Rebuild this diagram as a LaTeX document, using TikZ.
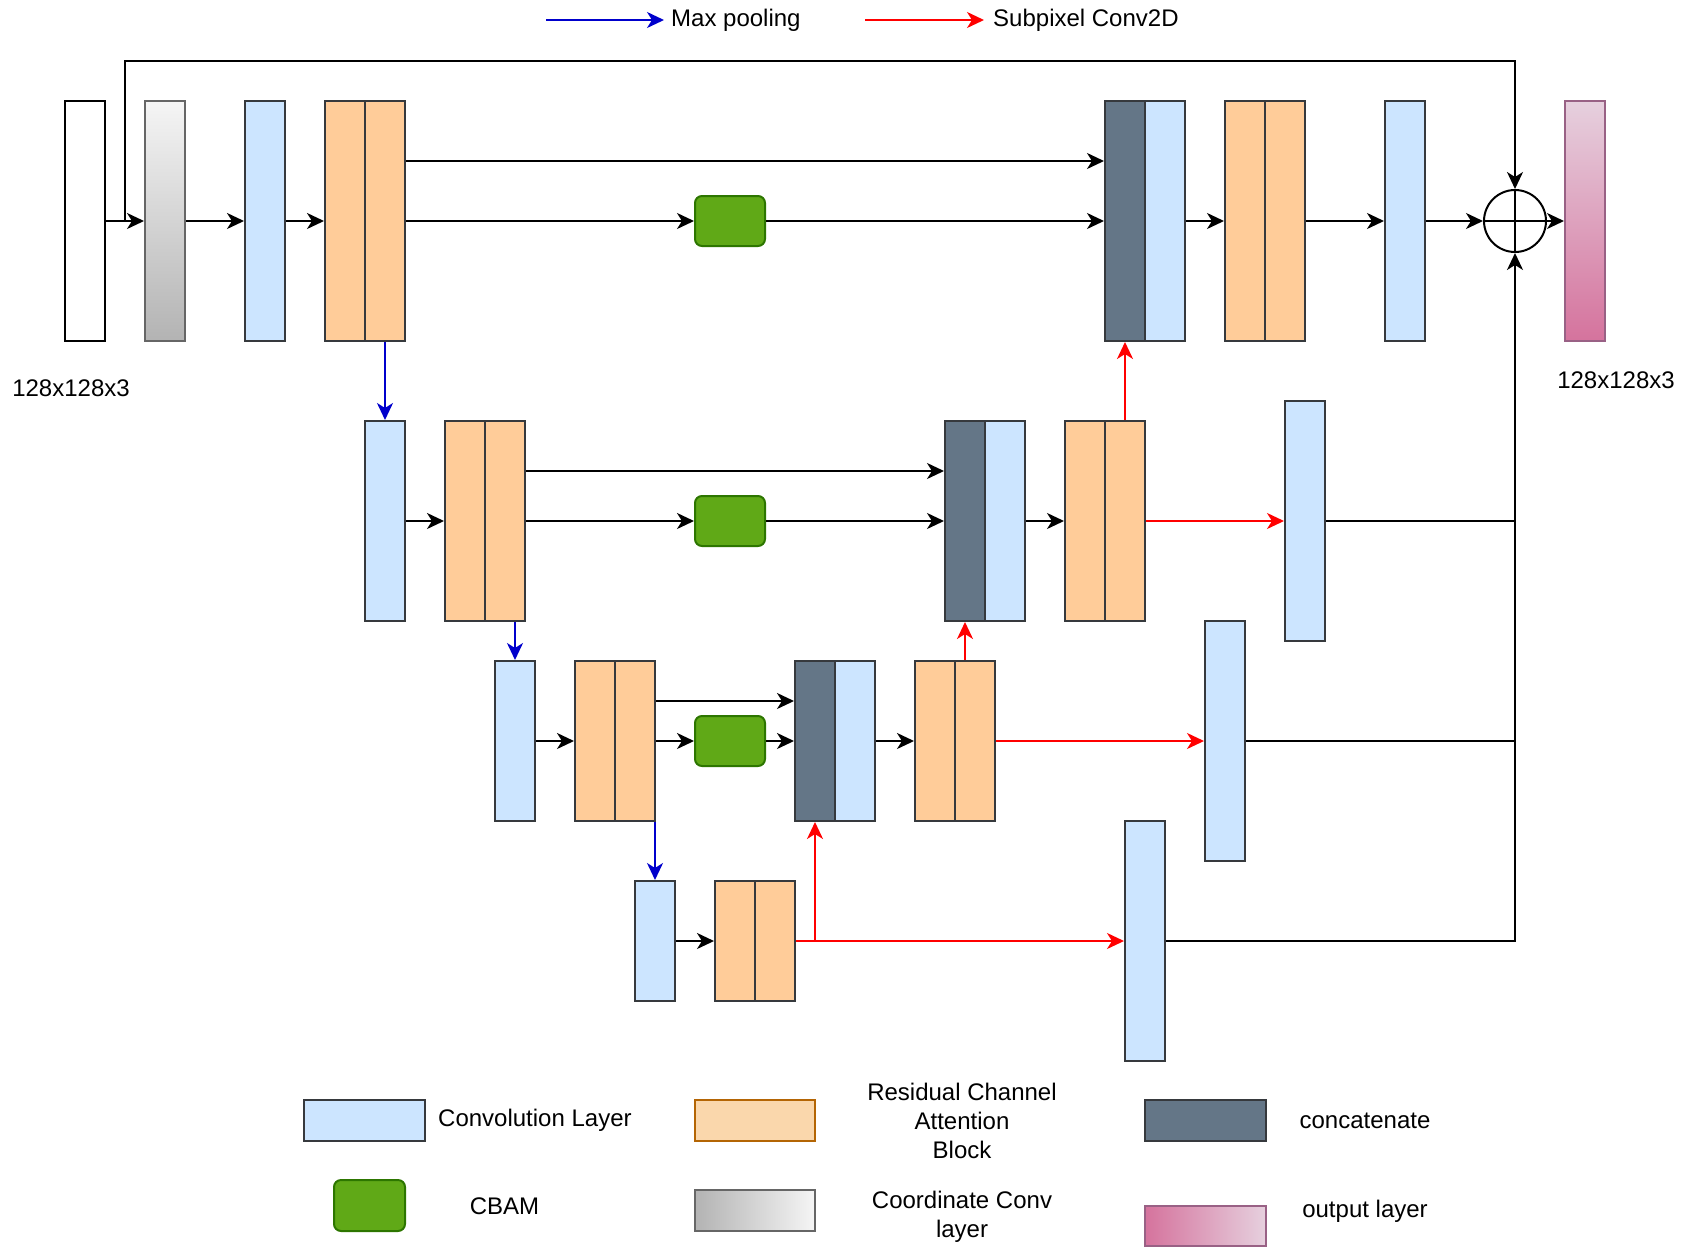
\documentclass[tikz,border=0pt]{standalone}
\usepackage{fontspec}
\setmainfont{Liberation Sans}
\usetikzlibrary{arrows.meta,calc,shadings}
\definecolor{convfill}{HTML}{CCE5FF}
\definecolor{boxline}{HTML}{36393D}
\definecolor{rcabfill}{HTML}{FFCC99}
\definecolor{catfill}{HTML}{647687}
\definecolor{catline}{HTML}{314354}
\definecolor{cbamfill}{HTML}{60A917}
\definecolor{cbamline}{HTML}{2D7600}
\definecolor{lorfill}{HTML}{FAD7AC}
\definecolor{lorline}{HTML}{B46504}
\definecolor{pinkline}{HTML}{996185}
\definecolor{pinktop}{HTML}{E6D0DE}
\definecolor{pinkbot}{HTML}{D5739D}
\definecolor{graytop}{HTML}{F5F5F5}
\definecolor{graybot}{HTML}{B3B3B3}
\definecolor{grayline}{HTML}{666666}
\definecolor{poolblue}{HTML}{0000CC}
\definecolor{subred}{HTML}{FF0000}
\begin{document}
\begin{tikzpicture}[x=1pt,y=-1pt,
  font=\fontsize{24}{29}\selectfont,
  blk/.style={draw=boxline,line width=2pt,inner sep=0pt,minimum width=40pt},
  conv/.style={blk,fill=convfill},
  rcab/.style={blk,fill=rcabfill},
  cat/.style={blk,fill=catfill,draw=boxline},
  cbam/.style={draw=cbamline,fill=cbamfill,line width=2pt,rounded corners=7pt,inner sep=0pt,minimum width=70pt,minimum height=50pt},
  h1/.style={minimum height=240pt},
  h2/.style={minimum height=200pt},
  h3/.style={minimum height=160pt},
  h4/.style={minimum height=120pt},
  tip/.style={-{Stealth[length=17pt,width=16pt,inset=5pt]}},
  arr/.style={tip,line width=2pt,black},
  ln/.style={line width=2pt,black},
  parr/.style={-{Stealth[length=17pt,width=16pt,inset=5pt]},line width=2pt,poolblue},
  sarr/.style={-{Stealth[length=17pt,width=16pt,inset=5pt]},line width=2pt,subred},
  sln/.style={line width=2pt,subred},
  lbl/.style={inner sep=0pt,align=center}
]
\useasboundingbox (0,0) rectangle (1686,1248);
% ---- legend top
\coordinate (mpA) at (546,20);
\coordinate (mpB) at (664,20);
\draw[parr] (mpA) -- (mpB);
\node[lbl,anchor=west] (mpT) at (671,20) {Max pooling};
\coordinate (spA) at (865,20);
\coordinate (spB) at (984,20);
\draw[sarr] (spA) -- (spB);
\node[lbl,anchor=west] (spT) at (993,20) {Subpixel Conv2D};
% ---- level 1
\node[blk,h1,fill=white,draw=black] (in) at (85,221) {};
\node[blk,h1,draw=grayline,top color=graytop,bottom color=graybot] (cc) at (165,221) {};
\node[conv,h1] (c1) at (265,221) {};
\node[rcab,h1] (r1a) at (345,221) {};
\node[rcab,h1] (r1b) at (385,221) {};
\node[cbam] (cb1) at (730,221) {};
\node[cat,h1] (k1) at (1125,221) {};
\node[conv,h1] (k1b) at (1165,221) {};
\node[rcab,h1] (u1a) at (1245,221) {};
\node[rcab,h1] (u1b) at (1285,221) {};
\node[conv,h1] (c1o) at (1405,221) {};
\node[draw=black,line width=2pt,circle,minimum size=62pt,inner sep=0pt,
  path picture={\draw[line width=2pt] (path picture bounding box.north) -- (path picture bounding box.south)
  (path picture bounding box.west) -- (path picture bounding box.east);}] (sum) at (1515,221) {};
\node[blk,h1,draw=pinkline,top color=pinktop,bottom color=pinkbot] (out) at (1585,221) {};
\node[lbl] (inT) at (71,388) {128x128x3};
\node[lbl] (outT) at (1616,380) {128x128x3};
% ---- level 2
\node[conv,h2] (c2) at (385,521) {};
\node[rcab,h2] (r2a) at (465,521) {};
\node[rcab,h2] (r2b) at (505,521) {};
\node[cbam] (cb2) at (730,521) {};
\node[cat,h2] (k2) at (965,521) {};
\node[conv,h2] (k2b) at (1005,521) {};
\node[rcab,h2] (u2a) at (1085,521) {};
\node[rcab,h2] (u2b) at (1125,521) {};
\node[conv,h1] (o2) at (1305,521) {};
% ---- level 3
\node[conv,h3] (c3) at (515,741) {};
\node[rcab,h3] (r3a) at (595,741) {};
\node[rcab,h3] (r3b) at (635,741) {};
\node[cbam] (cb3) at (730,741) {};
\node[cat,h3] (k3) at (815,741) {};
\node[conv,h3] (k3b) at (855,741) {};
\node[rcab,h3] (u3a) at (935,741) {};
\node[rcab,h3] (u3b) at (975,741) {};
\node[conv,h1] (o3) at (1225,741) {};
% ---- level 4
\node[conv,h4] (c4) at (655,941) {};
\node[rcab,h4] (r4a) at (735,941) {};
\node[rcab,h4] (r4b) at (775,941) {};
\node[conv,h1] (o4) at (1145,941) {};
% ---- connectors level 1
\coordinate (sk) at (125,221);
\draw[arr] (in.east) -- (cc.west);
\draw[arr] (sk) -- (125,61) -- (sum.north |- 0,61) -- (sum.north);
\draw[arr] (cc.east) -- (c1.west);
\draw[arr] (c1.east) -- (r1a.west);
\draw[arr] (r1b.east |- 0,161) -- (k1.west |- 0,161);
\draw[arr] (r1b.east) -- (cb1.west);
\draw[arr] (cb1.east) -- (k1.west);
\draw[arr] (k1b.east) -- (u1a.west);
\draw[arr] (u1b.east) -- (c1o.west);
\draw[arr] (c1o.east) -- (sum.west);
\draw[arr] (sum.east) -- (out.west);
% ---- level 2
\draw[parr] (r1b.south) -- (c2.north);
\draw[arr] (c2.east) -- (r2a.west);
\draw[arr] (r2b.east |- 0,471) -- (k2.west |- 0,471);
\draw[arr] (r2b.east) -- (cb2.west);
\draw[arr] (cb2.east) -- (k2.west);
\draw[arr] (k2b.east) -- (u2a.west);
\draw[sarr] (u2b.east) -- (o2.west);
\draw[sarr] (u2b.north) -- (k1.south);
\draw[ln] (o2.east) -- (sum.south |- o2.east);
% ---- level 3
\draw[parr] (c3.north |- r2b.south) -- (c3.north);
\draw[arr] (c3.east) -- (r3a.west);
\draw[arr] (r3b.east |- 0,701) -- (k3.west |- 0,701);
\draw[arr] (r3b.east) -- (cb3.west);
\draw[arr] (cb3.east) -- (k3.west);
\draw[arr] (k3b.east) -- (u3a.west);
\draw[sarr] (u3b.east) -- (o3.west);
\draw[sarr] (k2.south |- u3b.north) -- (k2.south);
\draw[ln] (o3.east) -- (sum.south |- o3.east);
% ---- level 4
\draw[parr] (c4.north |- r3b.south) -- (c4.north);
\draw[arr] (c4.east) -- (r4a.west);
\draw[sarr] (r4b.east) -- (o4.west);
\draw[sarr] (k3.south |- r4b.east) -- (k3.south);
\draw[arr] (o4.east) -- (sum.south |- o4.east) -- (sum.south);
% ---- legend
\node[conv,minimum width=121pt,minimum height=41pt] (lc) at (364.5,1120.5) {};
\node[lbl,anchor=west] (lcT) at (438,1120.5) {Convolution Layer};
\node[cbam,minimum width=71pt,minimum height=51pt] (lcb) at (369.5,1205.5) {};
\node[lbl] (lcbT) at (504.5,1206) {CBAM};
\node[blk,draw=lorline,fill=lorfill,minimum width=120pt,minimum height=41pt] (lr) at (755,1120.5) {};
\node[lbl] (lrT) at (962,1120.5) {Residual Channel\\Attention\\Block};
\node[blk,draw=grayline,left color=graybot,right color=graytop,minimum width=120pt,minimum height=41pt] (lcc) at (755,1210.5) {};
\node[lbl] (lccT) at (962,1217) {Coordinate Conv\\layer};
\node[cat,minimum width=121pt,minimum height=41pt] (lk) at (1205.5,1120.5) {};
\node[lbl] (lkT) at (1365,1120.5) {concatenate};
\node[blk,draw=pinkline,left color=pinkbot,right color=pinktop,minimum width=121pt,minimum height=40pt] (lo) at (1205.5,1226) {};
\node[lbl] (loT) at (1365,1211) {output layer};
\end{tikzpicture}
\end{document}
